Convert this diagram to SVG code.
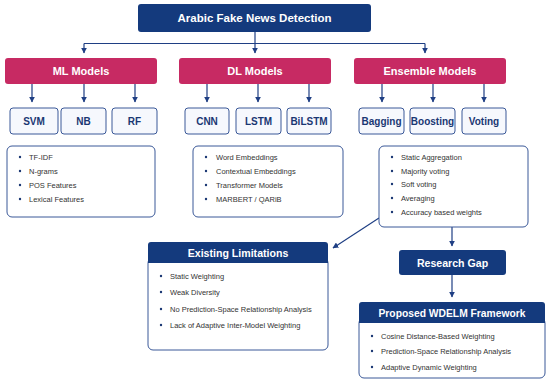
<svg xmlns="http://www.w3.org/2000/svg" width="550" height="383" viewBox="0 0 550 383">
<style>
.navy{fill:#143a7d}
.mag{fill:#c72a63}
.sm{fill:#f6f8fd;stroke:#3a5898;stroke-width:1}
.card{fill:#ffffff;stroke:#3a5898;stroke-width:1}
.ht{font-family:"Liberation Sans",Arial,sans-serif;font-weight:bold;fill:#ffffff;text-anchor:middle}
.st{font-family:"Liberation Sans",Arial,sans-serif;font-weight:bold;fill:#1a3773;font-size:10px;text-anchor:middle}
.bt{font-family:"Liberation Sans",Arial,sans-serif;fill:#333333;font-size:7.5px}
.bu{fill:#1a3773}
.ln{fill:none;stroke:#1f3f84;stroke-width:1.2}
</style>
<defs>
<marker id="ah" viewBox="0 0 10 10" refX="9" refY="5" markerWidth="5" markerHeight="5" orient="auto-start-reverse">
<path d="M0,0 L10,5 L0,10 z" fill="#1f3f84"/>
</marker>
</defs>
<rect width="550" height="383" fill="#ffffff"/>

<g id="connectors">
<path class="ln" d="M255,32 V43.5"/>
<path class="ln" d="M84,43.5 H425"/>
<path class="ln" d="M84,43.5 V53" marker-end="url(#ah)"/>
<path class="ln" d="M255,43.5 V53" marker-end="url(#ah)"/>
<path class="ln" d="M425,43.5 V53" marker-end="url(#ah)"/>
<path class="ln" d="M32,84 V102" marker-end="url(#ah)"/>
<path class="ln" d="M84,84 V102" marker-end="url(#ah)"/>
<path class="ln" d="M135,84 V102" marker-end="url(#ah)"/>
<path class="ln" d="M207,84 V102" marker-end="url(#ah)"/>
<path class="ln" d="M258,84 V102" marker-end="url(#ah)"/>
<path class="ln" d="M309,84 V102" marker-end="url(#ah)"/>
<path class="ln" d="M382,84 V102" marker-end="url(#ah)"/>
<path class="ln" d="M433,84 V102" marker-end="url(#ah)"/>
<path class="ln" d="M484,84 V102" marker-end="url(#ah)"/>
<path class="ln" d="M379,218 L333,248" marker-end="url(#ah)"/>
<path class="ln" d="M452,227 V246" marker-end="url(#ah)"/>
<path class="ln" d="M452,275 V297" marker-end="url(#ah)"/>
</g>

<g id="title">
<rect class="navy" x="138" y="4" width="233" height="28" rx="3"/>
<text class="ht" x="254.5" y="22" font-size="11.5">Arabic Fake News Detection</text>
</g>

<g id="ml">
<rect class="mag" x="5" y="58" width="152" height="26" rx="3"/>
<text class="ht" x="81" y="75" font-size="11">ML Models</text>
</g>
<g id="dl">
<rect class="mag" x="179" y="58" width="152" height="26" rx="3"/>
<text class="ht" x="255" y="75" font-size="11">DL Models</text>
</g>
<g id="ens">
<rect class="mag" x="354" y="58" width="152" height="26" rx="3"/>
<text class="ht" x="430" y="75" font-size="11">Ensemble Models</text>
</g>

<g id="svm"><rect class="sm" x="10" y="108" width="48" height="26" rx="3"/><text class="st" x="34" y="124.5">SVM</text></g>
<g id="nb"><rect class="sm" x="61" y="108" width="45" height="26" rx="3"/><text class="st" x="83.5" y="124.5">NB</text></g>
<g id="rf"><rect class="sm" x="112" y="108" width="45" height="26" rx="3"/><text class="st" x="134.5" y="124.5">RF</text></g>
<g id="cnn"><rect class="sm" x="185" y="108" width="44" height="26" rx="3"/><text class="st" x="207" y="124.5">CNN</text></g>
<g id="lstm"><rect class="sm" x="236" y="108" width="45" height="26" rx="3"/><text class="st" x="258.5" y="124.5">LSTM</text></g>
<g id="bilstm"><rect class="sm" x="287" y="108" width="44" height="26" rx="3"/><text class="st" x="309" y="124.5">BiLSTM</text></g>
<g id="bagging"><rect class="sm" x="359" y="108" width="45" height="26" rx="3"/><text class="st" x="381.5" y="124.5">Bagging</text></g>
<g id="boosting"><rect class="sm" x="410" y="108" width="45" height="26" rx="3"/><text class="st" x="432.5" y="124.5">Boosting</text></g>
<g id="voting"><rect class="sm" x="462" y="108" width="44" height="26" rx="3"/><text class="st" x="484" y="124.5">Voting</text></g>

<g id="ml-features">
<rect class="card" x="7" y="146" width="148" height="71" rx="5"/>
<circle class="bu" cx="20" cy="157" r="1.2"/><text class="bt" x="29" y="160">TF-IDF</text>
<circle class="bu" cx="20" cy="171" r="1.2"/><text class="bt" x="29" y="174">N-grams</text>
<circle class="bu" cx="20" cy="185" r="1.2"/><text class="bt" x="29" y="188">POS Features</text>
<circle class="bu" cx="20" cy="199" r="1.2"/><text class="bt" x="29" y="202">Lexical Features</text>
</g>

<g id="dl-features">
<rect class="card" x="193" y="146" width="150" height="71" rx="5"/>
<circle class="bu" cx="206" cy="157" r="1.2"/><text class="bt" x="216" y="160">Word Embeddings</text>
<circle class="bu" cx="206" cy="171" r="1.2"/><text class="bt" x="216" y="174">Contextual Embeddings</text>
<circle class="bu" cx="206" cy="185" r="1.2"/><text class="bt" x="216" y="188">Transformer Models</text>
<circle class="bu" cx="206" cy="199" r="1.2"/><text class="bt" x="216" y="202">MARBERT / QARiB</text>
</g>

<g id="ens-features">
<rect class="card" x="379" y="146" width="149" height="81" rx="5"/>
<circle class="bu" cx="392" cy="157" r="1.2"/><text class="bt" x="401" y="160">Static Aggregation</text>
<circle class="bu" cx="392" cy="171" r="1.2"/><text class="bt" x="401" y="174">Majority voting</text>
<circle class="bu" cx="392" cy="184" r="1.2"/><text class="bt" x="401" y="187">Soft voting</text>
<circle class="bu" cx="392" cy="198" r="1.2"/><text class="bt" x="401" y="201">Averaging</text>
<circle class="bu" cx="392" cy="212" r="1.2"/><text class="bt" x="401" y="215">Accuracy based weights</text>
</g>

<g id="limitations">
<rect class="card" x="148" y="258" width="180" height="92" rx="5"/>
<path class="navy" d="M151,242 H325 A3,3 0 0 1 328,245 V263 H148 V245 A3,3 0 0 1 151,242 Z"/>
<text class="ht" x="238" y="256.5" font-size="10.6">Existing Limitations</text>
<circle class="bu" cx="161" cy="276" r="1.2"/><text class="bt" x="170" y="279">Static Weighting</text>
<circle class="bu" cx="161" cy="292" r="1.2"/><text class="bt" x="170" y="295">Weak Diversity</text>
<circle class="bu" cx="161" cy="309" r="1.2"/><text class="bt" x="170" y="312">No Prediction-Space Relationship Analysis</text>
<circle class="bu" cx="161" cy="325" r="1.2"/><text class="bt" x="170" y="328">Lack of Adaptive Inter-Model Weighting</text>
</g>

<g id="research-gap">
<rect class="navy" x="399" y="250" width="107" height="25" rx="3"/>
<text class="ht" x="452.5" y="266.5" font-size="10.6">Research Gap</text>
</g>

<g id="wdelm">
<rect class="card" x="359" y="318" width="186" height="60" rx="5"/>
<path class="navy" d="M362,302 H542 A3,3 0 0 1 545,305 V323 H359 V305 A3,3 0 0 1 362,302 Z"/>
<text class="ht" x="452" y="316.5" font-size="10.3">Proposed WDELM Framework</text>
<circle class="bu" cx="372" cy="336" r="1.2"/><text class="bt" x="381" y="339">Cosine Distance-Based Weighting</text>
<circle class="bu" cx="372" cy="351" r="1.2"/><text class="bt" x="381" y="354">Prediction-Space Relationship Analysis</text>
<circle class="bu" cx="372" cy="367" r="1.2"/><text class="bt" x="381" y="370">Adaptive Dynamic Weighting</text>
</g>
</svg>
